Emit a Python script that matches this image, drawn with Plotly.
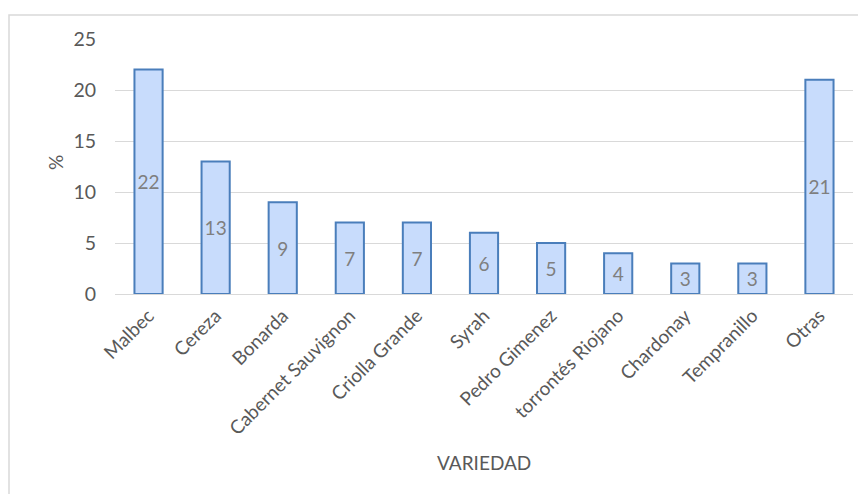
import plotly.graph_objects as go

categories = ["Malbec", "Cereza", "Bonarda", "Cabernet Sauvignon", "Criolla Grande",
              "Syrah", "Pedro Gimenez", "torrontés Riojano", "Chardonay", "Tempranillo", "Otras"]
values = [22, 13, 9, 7, 7, 6, 5, 4, 3, 3, 21]
y_ticks = [0, 5, 10, 15, 20, 25]

FONT = "Lato, 'Open Sans', sans-serif"

# page has an 8px body offset; plot area in page coords: x 115..853, y 39..294
L, R, T, B = 107, 21, 31, 208
PW, PH = 866 - L - R, 494 - T - B

def px(xp):
    return (xp - 8 - L) / PW

def py(yp):
    return 1 - (yp - 8 - T) / PH

fig = go.Figure()
fig.add_trace(go.Bar(
    x=categories, y=values,
    text=[str(v) for v in values],
    textposition="inside", insidetextanchor="middle", textangle=0,
    textfont=dict(family=FONT, size=19, color="#7f7f7f"),
    constraintext="none",
    marker=dict(color="#c8dcfc", line=dict(color="#4a7ebb", width=2)),
    width=0.42,
))

fig.update_layout(
    width=866, height=494,
    margin=dict(l=L, r=R, t=T, b=B),
    paper_bgcolor="white", plot_bgcolor="white",
    showlegend=False,
    font=dict(family=FONT, color="#595959", size=18),
    xaxis=dict(tickangle=-45, tickfont=dict(size=19, color="#595959"),
               showgrid=False, showline=False, ticks="", ticklabelstandoff=6),
    yaxis=dict(range=[0, 25], tickvals=y_ticks, showgrid=True, gridcolor="#d9d9d9",
               zeroline=True, zerolinecolor="#d9d9d9", zerolinewidth=1,
               tickfont=dict(size=19.5, color="#595959"), ticks="", ticklabelstandoff=18),
    shapes=[dict(type="rect", xref="paper", yref="paper",
                 x0=px(9), x1=px(880),
                 y0=py(505), y1=py(15),
                 line=dict(color="#d9d9d9", width=1.5), fillcolor="rgba(0,0,0,0)", layer="below")],
    annotations=[
        dict(text="VARIEDAD", xref="paper", yref="paper",
             x=px(484), y=py(462), showarrow=False,
             font=dict(size=19, color="#595959"), xanchor="center", yanchor="middle"),
        dict(text="%", xref="paper", yref="paper",
             x=px(55), y=py(163), showarrow=False, textangle=-90,
             font=dict(size=19, color="#595959"), xanchor="center", yanchor="middle"),
    ],
)

fig.write_html("out.html")
